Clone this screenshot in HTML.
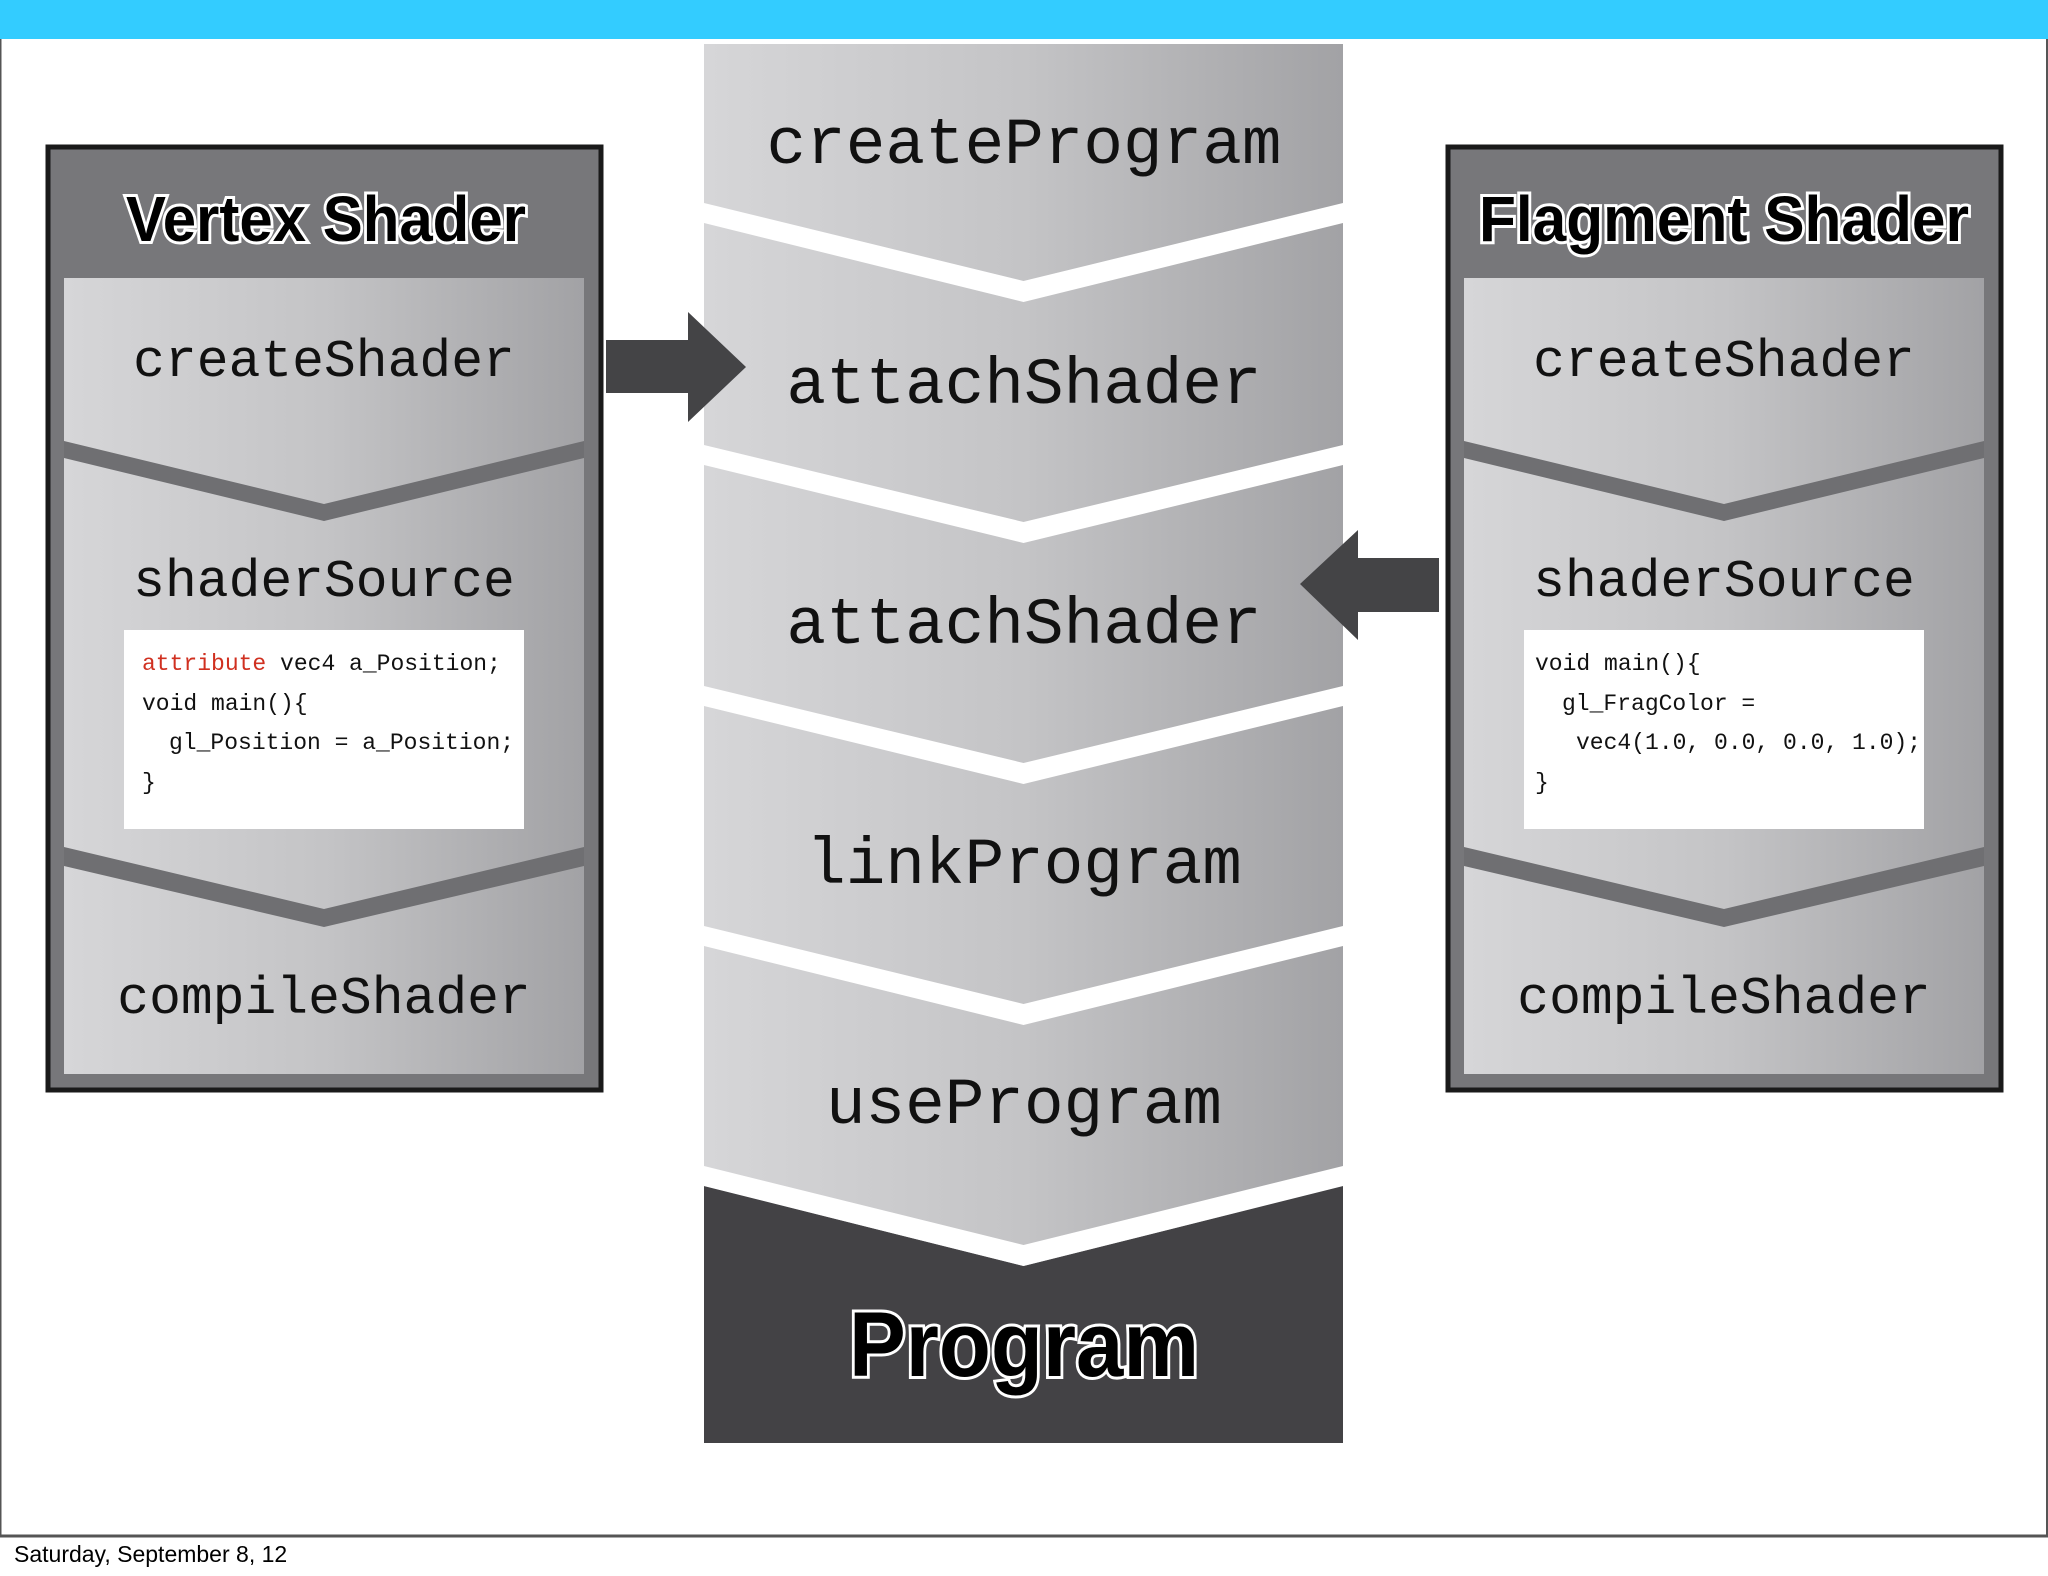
<!DOCTYPE html>
<html><head><meta charset="utf-8"><style>html,body{margin:0;padding:0;background:#fff}svg{display:block}</style></head>
<body>
<svg width="2048" height="1576" viewBox="0 0 2048 1576" xmlns="http://www.w3.org/2000/svg">
<defs>
<linearGradient id="g" x1="0" x2="1" y1="0" y2="0">
<stop offset="0" stop-color="#d6d6d8"/><stop offset="0.5" stop-color="#c4c4c6"/><stop offset="1" stop-color="#a2a2a5"/>
</linearGradient>
</defs>
<rect x="0" y="0" width="2048" height="1576" fill="#fff"/>
<rect x="0" y="0" width="2048" height="39" fill="#33ccff"/>
<line x1="0.5" y1="39" x2="0.5" y2="1536" stroke="#555" stroke-width="2"/>
<line x1="2047" y1="39" x2="2047" y2="1536" stroke="#555" stroke-width="2"/>
<line x1="0" y1="1536" x2="2048" y2="1536" stroke="#555" stroke-width="3"/>
<text x="14" y="1562" font-family="Liberation Sans, sans-serif" font-size="23" fill="#000">Saturday, September 8, 12</text>

<!-- center column -->
<rect x="704" y="44" width="639" height="1399" fill="url(#g)"/>
<polygon points="704,1186 1023.5,1266 1343,1186 1343,1443 704,1443" fill="#434245"/>
<g fill="#fff">
<polygon points="704,203 1023.5,281 1343,203 1343,223 1023.5,302 704,223"/>
<polygon points="704,445 1023.5,522 1343,445 1343,465 1023.5,543 704,465"/>
<polygon points="704,686 1023.5,763 1343,686 1343,706 1023.5,784 704,706"/>
<polygon points="704,926 1023.5,1004 1343,926 1343,946 1023.5,1025 704,946"/>
<polygon points="704,1166 1023.5,1245 1343,1166 1343,1186 1023.5,1266 704,1186"/>
</g>
<g font-family="Liberation Mono, monospace" font-size="66" fill="#111" text-anchor="middle">
<text x="1024" y="163">createProgram</text>
<text x="1024" y="403">attachShader</text>
<text x="1024" y="643">attachShader</text>
<text x="1024" y="883">linkProgram</text>
<text x="1024" y="1123">useProgram</text>
</g>
<text x="1024" y="1376" text-anchor="middle" font-family="Liberation Sans Narrow, Liberation Sans, sans-serif" font-weight="bold" font-size="92" fill="#000" stroke="#fff" stroke-width="6" paint-order="stroke" textLength="350" lengthAdjust="spacingAndGlyphs">Program</text>

<!-- arrows -->
<polygon points="606,340 688,340 688,312 746,367 688,422 688,393 606,393" fill="#444446"/>
<polygon points="1439,558 1358,558 1358,530 1300,584 1358,640 1358,612 1439,612" fill="#444446"/>

<!-- left box -->
<rect x="48" y="147" width="553" height="943" fill="#77777a" stroke="#1a1a1a" stroke-width="5"/>
<rect x="64" y="278" width="520" height="796" fill="url(#g)"/>
<polygon points="64,441 324,504 584,441 584,458 324,521 64,458" fill="#6f6f72"/>
<polygon points="64,847 324,909 584,847 584,866 324,927 64,866" fill="#6f6f72"/>
<text x="326" y="241" text-anchor="middle" font-family="Liberation Sans Narrow, Liberation Sans, sans-serif" font-weight="bold" font-size="64" fill="#000" stroke="#fff" stroke-width="6" paint-order="stroke" textLength="400" lengthAdjust="spacingAndGlyphs">Vertex Shader</text>
<g font-family="Liberation Mono, monospace" font-size="53" fill="#111" text-anchor="middle">
<text x="324" y="376">createShader</text>
<text x="324" y="596">shaderSource</text>
<text x="324" y="1013">compileShader</text>
</g>
<rect x="124" y="630" width="400" height="199" fill="#fff"/>
<g font-family="Liberation Mono, monospace" font-size="23" fill="#111">
<text x="142" y="670"><tspan fill="#d03020">attribute</tspan> vec4 a_Position;</text>
<text x="142" y="710">void main(){</text>
<text x="169" y="749">gl_Position = a_Position;</text>
<text x="142" y="789">}</text>
</g>

<!-- right box -->
<rect x="1448" y="147" width="553" height="943" fill="#77777a" stroke="#1a1a1a" stroke-width="5"/>
<rect x="1464" y="278" width="520" height="796" fill="url(#g)"/>
<polygon points="1464,441 1724,504 1984,441 1984,458 1724,521 1464,458" fill="#6f6f72"/>
<polygon points="1464,847 1724,909 1984,847 1984,866 1724,927 1464,866" fill="#6f6f72"/>
<text x="1724" y="241" text-anchor="middle" font-family="Liberation Sans Narrow, Liberation Sans, sans-serif" font-weight="bold" font-size="64" fill="#000" stroke="#fff" stroke-width="6" paint-order="stroke" textLength="490" lengthAdjust="spacingAndGlyphs">Flagment Shader</text>
<g font-family="Liberation Mono, monospace" font-size="53" fill="#111" text-anchor="middle">
<text x="1724" y="376">createShader</text>
<text x="1724" y="596">shaderSource</text>
<text x="1724" y="1013">compileShader</text>
</g>
<rect x="1524" y="630" width="400" height="199" fill="#fff"/>
<g font-family="Liberation Mono, monospace" font-size="23" fill="#111">
<text x="1535" y="670">void main(){</text>
<text x="1562" y="710">gl_FragColor =</text>
<text x="1576" y="749">vec4(1.0, 0.0, 0.0, 1.0);</text>
<text x="1535" y="789">}</text>
</g>
</svg>
</body></html>
